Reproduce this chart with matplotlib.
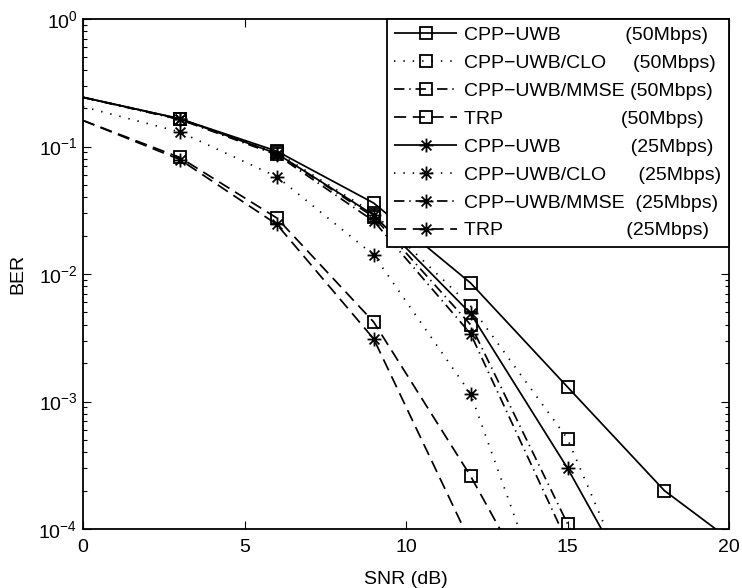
import numpy as np
import matplotlib
matplotlib.use("Agg")
import matplotlib.pyplot as plt
from matplotlib.path import Path

plt.rcParams['font.family'] = ['Liberation Sans', 'DejaVu Sans']
plt.rcParams['mathtext.fontset'] = 'custom'
plt.rcParams['mathtext.rm'] = 'Liberation Sans'
plt.rcParams['mathtext.it'] = 'Liberation Sans:italic'
plt.rcParams['mathtext.default'] = 'regular'
plt.rcParams['font.size'] = 14

nan = np.nan

# SNR grid (dB)
snr = [0, 3, 6, 9, 12, 15, 18, 21]

# BER curves, 50 Mbps
cpp_50 = [0.243, 0.165, 0.092, 0.036, 0.0085, 0.0013, 2.0e-4, 5.4e-5]
clo_50 = [0.243, 0.165, 0.090, 0.030, 0.0056, 5.1e-4, 8.5e-6, nan]
mmse_50 = [0.243, 0.163, 0.088, 0.028, 0.0040, 1.1e-4, 3.0e-6, nan]
trp_50 = [0.160, 0.082, 0.0275, 0.0042, 2.6e-4, 1.1e-5, nan, nan]

# BER curves, 25 Mbps
cpp_25 = [0.243, 0.165, 0.088, 0.029, 0.0049, 3.0e-4, 1.3e-5, nan]
clo_25 = [0.205, 0.130, 0.058, 0.0141, 0.00115, 8.7e-6, nan, nan]
mmse_25 = [0.243, 0.163, 0.086, 0.026, 0.0034, 7.8e-5, nan, nan]
trp_25 = [0.160, 0.079, 0.0245, 0.0031, 7.8e-5, nan, nan, nan]

labels = [
    "CPP\u2212UWB" + " " * 12 + "(50Mbps)",
    "CPP\u2212UWB/CLO" + " " * 5 + "(50Mbps)",
    "CPP\u2212UWB/MMSE" + " " * 1 + "(50Mbps)",
    "TRP" + " " * 22 + "(50Mbps)",
    "CPP\u2212UWB" + " " * 13 + "(25Mbps)",
    "CPP\u2212UWB/CLO" + " " * 6 + "(25Mbps)",
    "CPP\u2212UWB/MMSE" + " " * 2 + "(25Mbps)",
    "TRP" + " " * 23 + "(25Mbps)",
]

# asterisk marker: '+' overlaid with 'x'
d = 0.7071
asterisk = Path(
    [(-1, 0), (1, 0), (0, -1), (0, 1), (-d, -d), (d, d), (-d, d), (d, -d)],
    [Path.MOVETO, Path.LINETO] * 4,
)

solid = (0, ())
dotted = (0, (0.8, 4.6))
dashdot = (0, (6.0, 2.8, 0.8, 2.8))
dashed = (0, (7.0, 3.8))

series = [
    (cpp_50, solid, 's'),
    (clo_50, dotted, 's'),
    (mmse_50, dashdot, 's'),
    (trp_50, dashed, 's'),
    (cpp_25, solid, asterisk),
    (clo_25, dotted, asterisk),
    (mmse_25, dashdot, asterisk),
    (trp_25, dashed, asterisk),
]

fig = plt.figure(figsize=(7.42, 5.88), dpi=100)
ax = fig.add_axes([83 / 742, 59 / 588, 646 / 742, 510 / 588])

for (vals, ls, mk), lab in zip(series, labels):
    ms = 8.8 if mk == 's' else 10.0
    ax.semilogy(snr, vals, color='k', linestyle=ls, linewidth=1.25,
                marker=mk, markersize=ms, markerfacecolor='none',
                markeredgecolor='k', markeredgewidth=1.3,
                markevery=slice(1, None), label=lab)

ax.set_xlim(0, 20)
ax.set_ylim(1e-4, 1)
ax.set_xticks([0, 5, 10, 15, 20])
ax.set_xlabel("SNR (dB)", labelpad=11)
ax.set_ylabel("BER", labelpad=9)

for s in ax.spines.values():
    s.set_linewidth(1.3)

ax.tick_params(which='both', direction='in', top=True, right=True, width=0.8)
ax.tick_params(which='major', length=6)
ax.tick_params(which='minor', length=3)
ax.tick_params(axis='x', pad=7)
ax.tick_params(axis='y', pad=4)
ax.tick_params(axis='x', which='minor', bottom=False, top=False)

leg = ax.legend(loc='upper right', borderaxespad=0, fancybox=False,
                framealpha=1, edgecolor='k', numpoints=1,
                handlelength=3.2, handletextpad=0.4, borderpad=0.38,
                labelspacing=0.53, fontsize=14)
leg.get_frame().set_linewidth(1.3)

fig.savefig("out.png", dpi=100)
